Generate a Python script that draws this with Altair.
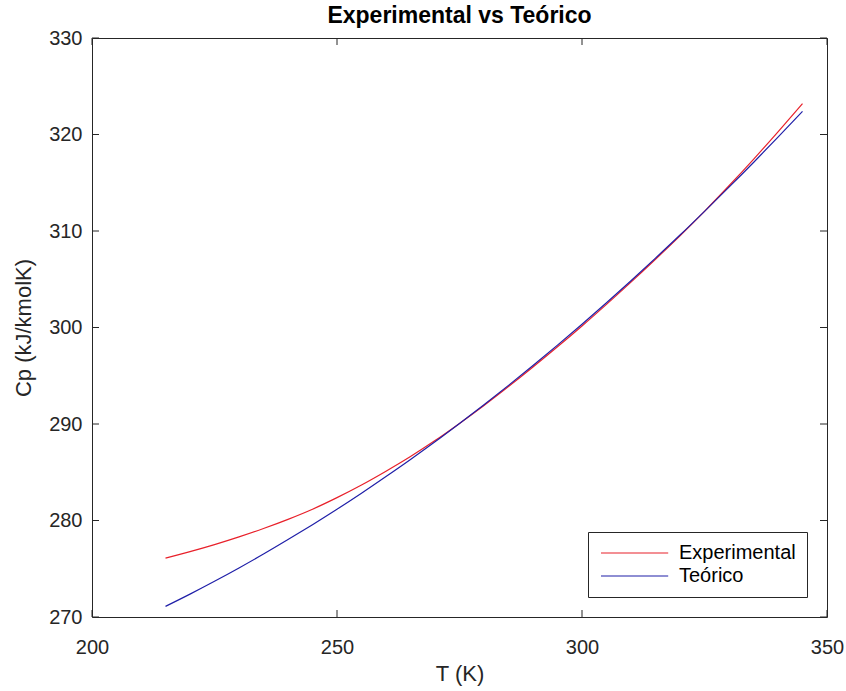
import altair as alt
import pandas as pd

# ---- data ----
T = [215, 220, 225, 230, 235, 240, 245, 250, 255, 260, 265, 270, 275, 280,
     285, 290, 295, 300, 305, 310, 315, 320, 325, 330, 335, 340, 345]
cp_experimental = [276.10, 276.77, 277.50, 278.30, 279.17, 280.12, 281.17, 282.37,
                   283.68, 285.11, 286.63, 288.28, 290.06, 291.92, 293.88, 295.91,
                   298.00, 300.16, 302.40, 304.70, 307.07, 309.50, 312.04, 314.69,
                   317.43, 320.28, 323.20]
cp_teorico = [271.10, 272.37, 273.70, 275.08, 276.52, 278.02, 279.57, 281.17,
              282.83, 284.56, 286.33, 288.16, 290.06, 292.00, 294.00, 296.06,
              298.17, 300.34, 302.57, 304.85, 307.19, 309.58, 312.04, 314.54,
              317.10, 319.73, 322.40]
series_names = ["Experimental", "Teórico"]
series_colors = ["#e8202a", "#1f1fa8"]
x_ticks = [200, 250, 300, 350]
y_ticks = [270, 280, 290, 300, 310, 320, 330]

rows = []
for name, vals in zip(series_names, [cp_experimental, cp_teorico]):
    for t, v in zip(T, vals):
        rows.append({"T": t, "Cp": v, "serie": name})
df = pd.DataFrame(rows)

W, H = 735, 579
FONT = "Liberation Sans"
AX = "#262626"
TL = 7

x_scale = alt.Scale(domain=[200, 350], nice=False, zero=False)
y_scale = alt.Scale(domain=[270, 330], nice=False, zero=False)

x_axis = alt.Axis(values=x_ticks, title="T (K)", grid=False, domain=False,
                  ticks=False, tickSize=0, labelPadding=20, labelFlush=False,
                  labelFontSize=20, labelColor=AX, labelFont=FONT,
                  titleFontSize=22, titleColor=AX, titleFont=FONT,
                  titleFontWeight="normal", titleX=W / 2, titleY=56,
                  titleBaseline="middle", titleAlign="center")
y_axis = alt.Axis(values=y_ticks, title="Cp (kJ/kmolK)", grid=False,
                  domain=False, ticks=False, tickSize=0, labelPadding=10,
                  labelFlush=False,
                  labelFontSize=20, labelColor=AX, labelFont=FONT,
                  titleFontSize=22, titleColor=AX, titleFont=FONT,
                  titleFontWeight="normal", titleX=-69, titleY=H / 2,
                  titleBaseline="middle", titleAlign="center", titleAngle=270)

lines = alt.Chart(df).mark_line(strokeWidth=1.2, interpolate="monotone").encode(
    x=alt.X("T:Q", scale=x_scale, axis=x_axis),
    y=alt.Y("Cp:Q", scale=y_scale, axis=y_axis),
    color=alt.Color("serie:N",
                    scale=alt.Scale(domain=series_names, range=series_colors),
                    legend=alt.Legend(title=None, orient="bottom-right", offset=20,
                                      strokeColor=AX, fillColor="white", padding=11,
                                      labelFont=FONT, labelFontSize=20, labelColor="#000",
                                      symbolType="M-1,0H7.4", symbolSize=256,
                                      symbolStrokeWidth=1.2, labelOffset=60,
                                      rowPadding=3)),
)

xt_df = pd.DataFrame({"T": x_ticks})
yt_df = pd.DataFrame({"Cp": y_ticks})

x_bottom = alt.Chart(xt_df).mark_rule(color=AX, strokeWidth=1).encode(
    x=alt.X("T:Q", scale=x_scale, axis=x_axis), y=alt.value(H), y2=alt.value(H - TL))
x_top = alt.Chart(xt_df).mark_rule(color=AX, strokeWidth=1).encode(
    x=alt.X("T:Q", scale=x_scale, axis=x_axis), y=alt.value(0), y2=alt.value(TL))
y_left = alt.Chart(yt_df).mark_rule(color=AX, strokeWidth=1).encode(
    y=alt.Y("Cp:Q", scale=y_scale, axis=y_axis), x=alt.value(0), x2=alt.value(TL))
y_right = alt.Chart(yt_df).mark_rule(color=AX, strokeWidth=1).encode(
    y=alt.Y("Cp:Q", scale=y_scale, axis=y_axis), x=alt.value(W), x2=alt.value(W - TL))

chart = alt.layer(lines, x_bottom, x_top, y_left, y_right).properties(
    width=W, height=H,
    title=alt.TitleParams("Experimental vs Teórico", font=FONT, fontSize=23,
                          fontWeight="bold", color="#000", anchor="middle", offset=0),
    autosize=alt.AutoSizeParams(type="none"),
    padding={"left": 92, "top": 38, "right": 19, "bottom": 74},
    background="white",
).configure_view(stroke=AX, strokeWidth=1)

chart.save("out.html", embed_options={"renderer": "svg", "actions": False})
